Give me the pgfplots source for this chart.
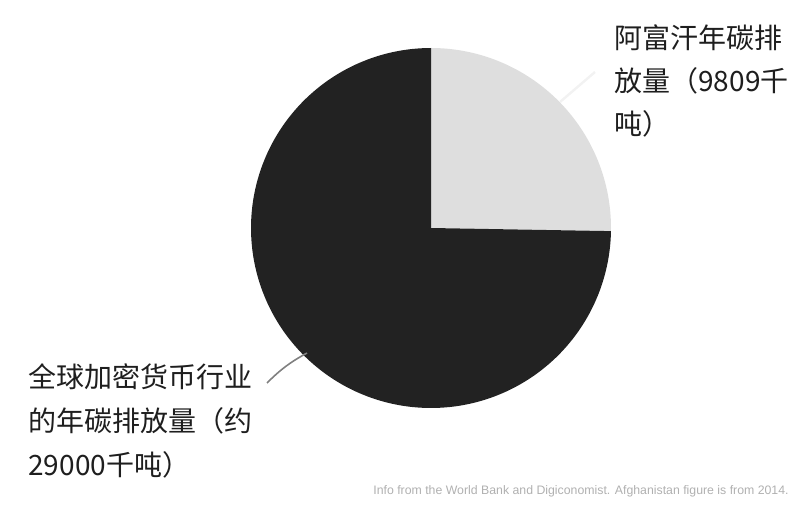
\documentclass[border=0pt]{standalone}
\usepackage{fontspec}
\usepackage{pgfplots}
\pgfplotsset{compat=1.18}
\setmainfont{Liberation Sans}
\newfontfamily\cjk{Noto Sans CJK SC}
\definecolor{cdark}{HTML}{222222}
\definecolor{clight}{HTML}{DEDEDE}
\definecolor{ctext}{HTML}{1E1E1E}
\definecolor{cnote}{HTML}{B0B0B0}
% slice values, million tonnes CO2 (9809 and 29000 thousand t)
\def\vafg{9.809}
\def\vcrypto{29.000}
\pgfmathsetmacro\fracafg{\vafg/(\vafg+\vcrypto)}
\pgfmathsetmacro\splitang{90-360*\fracafg}
\pgfmathsetmacro\endang{\splitang-360*(1-\fracafg)}

\begin{document}
\begin{tikzpicture}
\path[use as bounding box] (0,0) rectangle (404pt,254.5pt);
\begin{axis}[
  at={(215.5pt,140.5pt)}, anchor=center,
  width=180pt, height=180pt, scale only axis,
  xmin=-1, xmax=1, ymin=-1, ymax=1,
  hide axis, clip=false,
]
\addplot[draw=none, fill=clight, domain=\splitang:90, samples=90]
  ({cos(x)}, {sin(x)}) -- (axis cs:0,0) -- cycle;
\addplot[draw=none, fill=cdark, domain=\endang:\splitang, samples=240]
  ({cos(x)}, {sin(x)}) -- (axis cs:0,0) -- cycle;
\end{axis}
\begin{scope}[x=0.5pt, y=-0.5pt, shift={(0pt,254.5pt)}]
% leader lines
\draw[white!95!black, line width=1.2pt] (560,102) -- (595,72);
\draw[black!50, line width=0.8pt] (267,383) to[bend left=8] (307,353);
% labels (base = last line)
\node[anchor=base west, inner sep=0pt, align=left, text=ctext,
  font=\cjk\fontsize{14}{21.5}\selectfont] at (614,135)
  {阿富汗年碳排\\放量（9809千\\吨）};
\node[anchor=base west, inner sep=0pt, align=left, text=ctext,
  font=\cjk\fontsize{14}{22}\selectfont] at (28,475)
  {全球加密货币行业\\的年碳排放量（约\\29000千吨）};
\node[anchor=base east, inner sep=0pt, text=cnote,
  font=\fontsize{6.15}{7}\selectfont] at (789,494)
  {Info from the World Bank and Digiconomist. Afghanistan figure is from 2014.};
\end{scope}
\end{tikzpicture}
\end{document}
